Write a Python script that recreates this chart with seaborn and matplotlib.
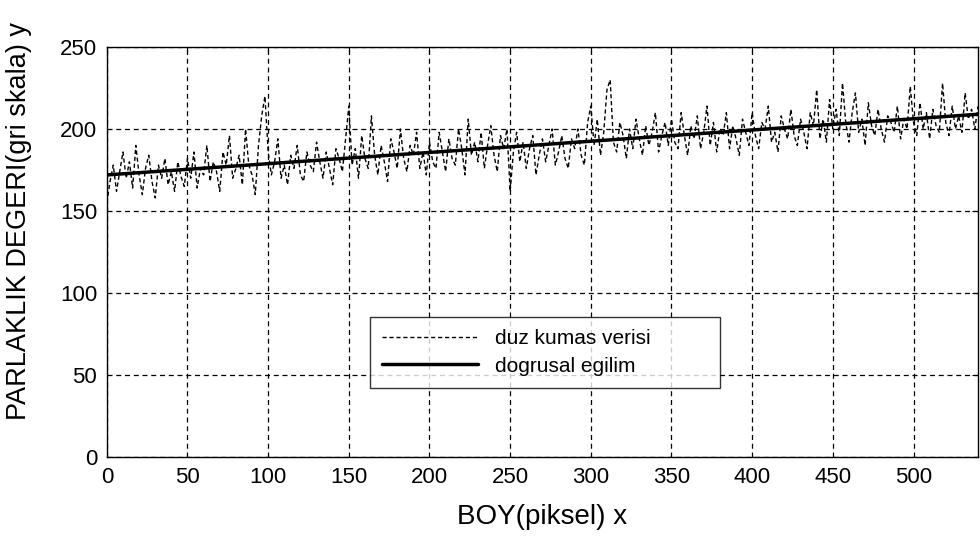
import numpy as np
import pandas as pd
import seaborn as sns
import matplotlib.pyplot as plt

# brightness values, one every 2 pixels along the length
step = 2
brightness = [
    155, 168, 178, 162, 174, 186, 170, 180, 164, 190, 172, 160, 176, 184, 168, 158, 178, 170, 182, 166, 174, 162, 180, 171, 165,
    182, 170, 186, 164, 176, 172, 190, 168, 180, 174, 162, 186, 178, 196, 170, 176, 184, 166, 200, 178, 172, 160, 190, 208, 220,
    186, 172, 180, 194, 170, 178, 166, 184, 176, 190, 172, 168, 186, 178, 174, 192, 180, 170, 186, 176, 166, 188, 182, 174, 194,
    214, 178, 188, 170, 196, 182, 176, 208, 184, 172, 190, 180, 168, 194, 186, 176, 200, 182, 174, 190, 184, 198, 176, 186, 172,
    192, 180, 176, 198, 186, 174, 194, 182, 178, 200, 188, 172, 206, 184, 192, 180, 198, 176, 190, 202, 184, 174, 196, 188, 200,
    162, 186, 198, 180, 192, 176, 188, 196, 172, 184, 194, 180, 190, 200, 178, 186, 196, 182, 176, 194, 188, 200, 184, 178, 204,
    214, 190, 206, 184, 198, 224, 230, 192, 186, 204, 196, 182, 200, 188, 206, 194, 184, 202, 190, 198, 210, 186, 196, 204, 190,
    206, 192, 188, 210, 196, 184, 202, 194, 208, 188, 198, 214, 190, 204, 186, 200, 196, 210, 188, 202, 194, 184, 206, 198, 190,
    210, 196, 188, 204, 200, 214, 192, 198, 186, 208, 200, 194, 212, 196, 190, 206, 198, 188, 210, 202, 224, 194, 206, 192, 218,
    200, 212, 196, 228, 204, 192, 210, 222, 198, 206, 190, 216, 202, 196, 212, 200, 192, 208, 204, 198, 214, 194, 206, 200, 226,
    204, 196, 216, 200, 210, 194, 212, 202, 198, 228, 204, 196, 214, 200, 208, 198, 222, 206, 212, 200, 214,
]
trend_x = [0, 540]
trend_y = [172, 209]

raw = pd.DataFrame({"x": np.arange(len(brightness)) * step, "y": brightness})
trend = pd.DataFrame({"x": trend_x, "y": trend_y})

sns.set_style("white")
plt.rcParams["font.family"] = ["Liberation Sans Narrow", "Liberation Sans", "DejaVu Sans"]
plt.rcParams.update({"text.color": "black", "axes.labelcolor": "black",
                     "xtick.color": "black", "ytick.color": "black"})

fig = plt.figure(figsize=(9.8, 5.38), dpi=100)
ax = fig.add_axes([0.109, 0.1506, 0.889, 0.762])

sns.lineplot(data=raw, x="x", y="y", ax=ax, color="black", linewidth=1,
             linestyle=(0, (3, 2)), label="duz kumas verisi")
sns.lineplot(data=trend, x="x", y="y", ax=ax, color="black", linewidth=2.5,
             label="dogrusal egilim")

ax.set_xlim(0, 540)
ax.set_ylim(0, 250)
ax.set_xticks(range(0, 501, 50))
ax.set_yticks(range(0, 251, 50))
ax.grid(True, color="black", linestyle=(0, (4, 3)), linewidth=0.9)
ax.tick_params(direction="in", top=True, right=True, length=4, labelsize=16,
               pad=7, color="black")
for s in ax.spines.values():
    s.set_color("black")
    s.set_linewidth(1)

ax.set_xlabel("BOY(piksel) x", fontsize=20, labelpad=12)
ax.set_ylabel("PARLAKLIK DEGERI(gri skala) y", fontsize=19.5)
ax.yaxis.set_label_coords(-0.086, 0.576)

leg = ax.legend(loc="lower left", bbox_to_anchor=(0.302, 0.168, 0.402, 0.178),
                mode="expand", fontsize=15, handlelength=4.6, frameon=True,
                fancybox=False, borderpad=0.6, labelspacing=0.4, borderaxespad=0)
leg.get_frame().set_edgecolor("black")
leg.get_frame().set_linewidth(1)

fig.savefig("out.png", dpi=100)
